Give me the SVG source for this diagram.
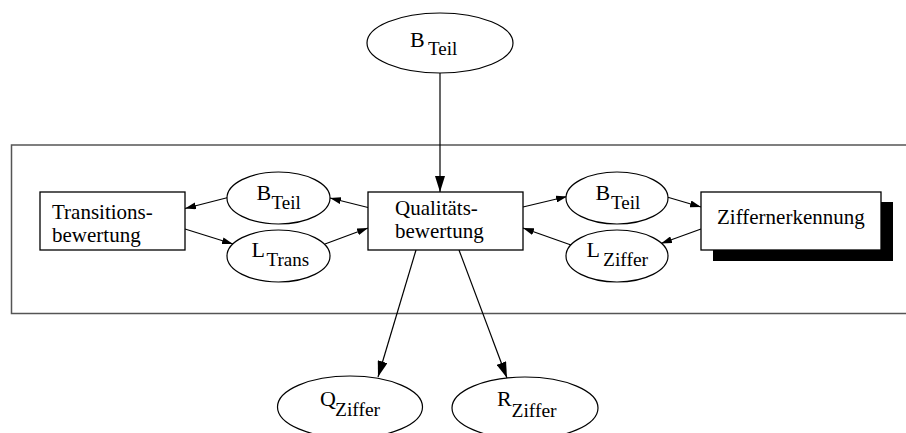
<svg xmlns="http://www.w3.org/2000/svg" width="906" height="433" viewBox="0 0 906 433">
  <style>
    .frame { fill: none; stroke: #555; stroke-width: 1.5; }
    .box { fill: #fff; stroke: #000; stroke-width: 1.3; }
    .shadow { fill: #000; }
    .ell { fill: #fff; stroke: #000; stroke-width: 1.2; }
    .edge { fill: none; stroke: #000; stroke-width: 1.2; }
    .big { marker-end: url(#headL); }
    .small { marker-end: url(#headS); }
  </style>
  <defs>
    <marker id="headL" markerUnits="userSpaceOnUse" markerWidth="16" markerHeight="10" refX="16" refY="5" orient="auto">
      <path d="M0,0 L16,5 L0,10 Z" fill="#000"/>
    </marker>
    <marker id="headS" markerUnits="userSpaceOnUse" markerWidth="11" markerHeight="7" refX="11" refY="3.5" orient="auto">
      <path d="M0,0 L11,3.5 L0,7 Z" fill="#000"/>
    </marker>
  </defs>

  <rect width="906" height="433" fill="#fff"/>

  <!-- enclosing frame (open to the right) -->
  <rect class="frame" x="11.5" y="145" width="905" height="168.5"/>

  <g id="connectors">
    <line class="edge big" x1="440" y1="73" x2="440" y2="192"/>
    <line class="edge small" x1="228" y1="197.5" x2="185" y2="208.5"/>
    <line class="edge small" x1="185" y1="229" x2="233" y2="244"/>
    <line class="edge small" x1="325" y1="244" x2="368" y2="228"/>
    <line class="edge small" x1="368" y1="207.5" x2="330" y2="198"/>
    <line class="edge small" x1="523" y1="207" x2="567" y2="196.5"/>
    <line class="edge small" x1="667" y1="197" x2="701" y2="207"/>
    <line class="edge small" x1="701" y1="229" x2="661" y2="243.5"/>
    <line class="edge small" x1="571" y1="245" x2="523" y2="228"/>
    <line class="edge big" x1="416" y1="250" x2="378" y2="377"/>
    <line class="edge big" x1="459" y1="250" x2="507" y2="378"/>
  </g>

  <g font-family="Liberation Serif, serif" font-size="21" fill="#000">
    <g id="b-teil-top">
      <ellipse class="ell" cx="440" cy="43" rx="73" ry="30"/>
      <text x="410" y="47" font-size="22">B</text>
      <text x="428" y="54.5" font-size="19">Teil</text>
    </g>

    <g id="transitionsbewertung">
      <rect class="box" x="40" y="192" width="145" height="58"/>
      <text x="52" y="218.5">Transitions-</text>
      <text x="52" y="241.5">bewertung</text>
    </g>

    <g id="b-teil-left">
      <ellipse class="ell" cx="278.5" cy="198" rx="51.5" ry="26"/>
      <text x="256.5" y="200" font-size="22">B</text>
      <text x="271.5" y="208.5" font-size="19">Teil</text>
    </g>

    <g id="l-trans">
      <ellipse class="ell" cx="278.5" cy="256" rx="51.5" ry="26"/>
      <text x="251.5" y="257" font-size="22">L</text>
      <text x="266.5" y="266" font-size="19">Trans</text>
    </g>

    <g id="qualitaetsbewertung">
      <rect class="box" x="368" y="192" width="155" height="58"/>
      <text x="395" y="214.5">Qualitäts-</text>
      <text x="395" y="237.5">bewertung</text>
    </g>

    <g id="b-teil-right">
      <ellipse class="ell" cx="617" cy="198" rx="51" ry="26"/>
      <text x="595.5" y="200" font-size="22">B</text>
      <text x="611" y="208.5" font-size="19">Teil</text>
    </g>

    <g id="l-ziffer">
      <ellipse class="ell" cx="617" cy="256" rx="51" ry="26"/>
      <text x="586.5" y="257" font-size="22">L</text>
      <text x="603" y="266" font-size="19.5">Ziffer</text>
    </g>

    <g id="ziffernerkennung">
      <rect class="shadow" x="713" y="202" width="180" height="59"/>
      <rect class="box" x="701" y="192" width="180" height="58"/>
      <text x="717" y="224">Ziffernerkennung</text>
    </g>

    <g id="q-ziffer">
      <ellipse class="ell" cx="350" cy="407" rx="72.5" ry="31"/>
      <text x="320" y="406" font-size="22">Q</text>
      <text x="335" y="416" font-size="19.5">Ziffer</text>
    </g>

    <g id="r-ziffer">
      <ellipse class="ell" cx="525" cy="408" rx="73" ry="31"/>
      <text x="497" y="406" font-size="22">R</text>
      <text x="511.5" y="417" font-size="19.5">Ziffer</text>
    </g>
  </g>
</svg>
